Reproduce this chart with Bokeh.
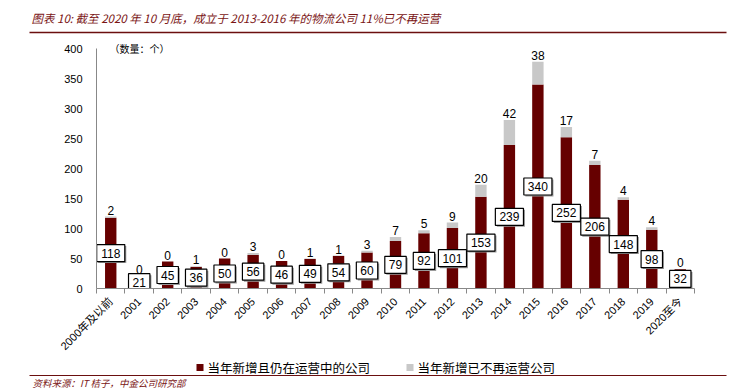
import math
from bokeh.plotting import figure
from bokeh.layouts import column
from bokeh.models import (ColumnDataSource, Range1d, FixedTicker, LabelSet, Label,
                          CustomJSTickFormatter)
from bokeh.core.properties import value
from bokeh.embed import file_html
from bokeh.resources import INLINE

# ---------------- data ----------------
categories = ["2000年及以前", "2001", "2002", "2003", "2004", "2005", "2006", "2007",
              "2008", "2009", "2010", "2011", "2012", "2013", "2014", "2015", "2016",
              "2017", "2018", "2019", "2020至今"]
active = [118, 21, 45, 36, 50, 56, 46, 49, 54, 60, 79, 92, 101, 153, 239, 340, 252,
          206, 148, 98, 32]
inactive = [2, 0, 0, 1, 0, 3, 0, 1, 1, 3, 7, 5, 9, 20, 42, 38, 17, 7, 4, 4, 0]
y_ticks = [0, 50, 100, 150, 200, 250, 300, 350, 400]
series_names = ["当年新增且仍在运营中的公司", "当年新增已不再运营公司"]
title_text = "图表 10: 截至 2020 年 10 月底，成立于 2013-2016 年的物流公司 11%已不再运营"
source_text = "资料来源：IT 桔子，中金公司研究部"
unit_text = "（数量：个）"

# ---------------- styles / geometry ----------------
W = 735
TOP_H = 35
BOT_H = 31
FRAME_W, FRAME_H = 598, 252
LEFT_B, RIGHT_B = 96, W - 96 - 598
N = len(categories)
YMAX = y_ticks[-1]
YTOP = YMAX + 12 * (YMAX / 240.0)   # headroom above 400 for the unit label
PX_X = N / FRAME_W
PX_Y = YTOP / FRAME_H

DARK = "#660000"
GRAY = "#C8C8C8"
SERIES_COLORS = [DARK, GRAY]
TITLE_RED = "#7A1414"
LINE_RED = "#6B0F0F"
NUM_FONT = "Liberation Sans, Arial, Noto Sans CJK SC"
CJK_FONT = "Noto Sans CJK SC"

xs = [i + 0.5 for i in range(N)]
total = [a + b for a, b in zip(active, inactive)]
mid = [a / 2 for a in active]
box_w = [8 + 6.7 * len(str(a)) for a in active]
src = ColumnDataSource(dict(
    x=xs, active=active, total=total, mid=mid, box_w=box_w,
    sx=[x + 1.5 * PX_X for x in xs], sy=[m - 1.5 * PX_Y for m in mid],
    active_str=[str(a) for a in active],
    inactive_str=[str(b) for b in inactive],
))

def bare(fig):
    fig.outline_line_color = None
    fig.background_fill_color = "white"
    fig.border_fill_color = "white"
    fig.frame_align = False
    return fig

# ---------------- title strip ----------------
pt = bare(figure(width=W, height=TOP_H, output_backend="svg", toolbar_location=None,
                 x_range=Range1d(0, W), y_range=Range1d(TOP_H, 0),
                 x_axis_type=None, y_axis_type=None, min_border=0))
pt.grid.visible = False
pt.add_layout(Label(x=31, y=17, text=title_text, text_font=CJK_FONT,
                    text_font_size="11.5px", text_font_style="italic",
                    text_color=TITLE_RED, text_baseline="middle"))
pt.segment(x0=[29], y0=[32], x1=[726], y1=[32], line_color=LINE_RED, line_width=1.5)

# ---------------- main chart ----------------
p = bare(figure(frame_width=FRAME_W, frame_height=FRAME_H, output_backend="svg",
                toolbar_location=None,
                x_range=Range1d(0, N), y_range=Range1d(0, YTOP),
                min_border_left=LEFT_B, min_border_right=RIGHT_B,
                min_border_top=1, min_border_bottom=0))
p.xgrid.visible = False
p.ygrid.visible = False

r1 = p.vbar(x="x", bottom=0, top="active", width=0.4, source=src,
            fill_color=DARK, line_color=None)
r2 = p.vbar(x="x", bottom="active", top="total", width=0.4, source=src,
            fill_color=GRAY, line_color=None)

p.rect(x="sx", y="sy", width="box_w", height=17, width_units="screen",
       height_units="screen", source=src, fill_color="#9A9A9A", line_color=None)
p.rect(x="x", y="mid", width="box_w", height=17, width_units="screen",
       height_units="screen", source=src, fill_color="white", line_color="black",
       line_width=1.2)

p.yaxis.ticker = FixedTicker(ticks=y_ticks)
p.yaxis.bounds = (0, YMAX)
p.yaxis.axis_line_color = "#888888"
p.yaxis.major_tick_line_color = None
p.yaxis.minor_tick_line_color = None
p.yaxis.major_label_text_font = NUM_FONT
p.yaxis.major_label_text_font_size = "11px"
p.yaxis.major_label_text_color = "black"
p.yaxis.major_label_standoff = 8

p.xaxis.ticker = FixedTicker(ticks=xs, minor_ticks=list(range(N + 1)))
p.xaxis.formatter = CustomJSTickFormatter(args=dict(cats=categories),
                                          code="return cats[Math.floor(tick)];")
p.xaxis.axis_line_color = "#888888"
p.xaxis.major_tick_line_color = None
p.xaxis.major_tick_out = 0
p.xaxis.minor_tick_line_color = "#888888"
p.xaxis.minor_tick_out = 5
p.xaxis.minor_tick_in = 0
p.xaxis.major_label_orientation = math.pi / 4
p.xaxis.major_label_text_font = NUM_FONT
p.xaxis.major_label_text_font_size = "11px"
p.xaxis.major_label_text_color = "black"
p.xaxis.major_label_standoff = 6

p.add_layout(LabelSet(x="x", y="mid", text="active_str", source=src,
                      text_align="center", text_baseline="middle",
                      text_font=value(NUM_FONT), text_font_size="12px",
                      text_color="black"))
p.add_layout(LabelSet(x="x", y="total", text="inactive_str", source=src,
                      text_align="center", text_baseline="bottom", y_offset=2,
                      text_font=value(NUM_FONT), text_font_size="12px",
                      text_color="black"))
p.add_layout(Label(x=13 * PX_X, y=YMAX, text=unit_text, text_font=CJK_FONT,
                   text_font_size="10px", text_color="black", text_baseline="middle"))

# ---------------- legend + source strip ----------------
pb = bare(figure(width=W, height=BOT_H, output_backend="svg", toolbar_location=None,
                 x_range=Range1d(0, W), y_range=Range1d(BOT_H, 0),
                 x_axis_type=None, y_axis_type=None, min_border=0))
pb.grid.visible = False
leg = ColumnDataSource(dict(x=[199.5, 409.5], y=[8, 8], color=SERIES_COLORS,
                            tx=[207, 417], name=series_names))
pb.scatter(x="x", y="y", marker="square", size=7, fill_color="color",
           line_color=None, source=leg)
pb.add_layout(LabelSet(x="tx", y="y", text="name", source=leg,
                       text_font=value(CJK_FONT), text_font_size="12.5px",
                       text_color="black", text_baseline="middle"))
pb.segment(x0=[29], y0=[16], x1=[726], y1=[16], line_color=LINE_RED, line_width=1.2)
pb.add_layout(Label(x=32, y=23, text=source_text, text_font=CJK_FONT,
                    text_font_size="9.5px", text_font_style="italic",
                    text_color=TITLE_RED, text_baseline="middle"))

layout = column(pt, p, pb, spacing=0)
open("out.html", "w").write(file_html(layout, INLINE))
